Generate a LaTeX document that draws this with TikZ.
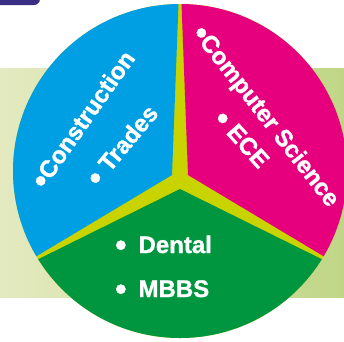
\documentclass[tikz,border=0pt]{standalone}
\usepackage{fontspec}
\setmainfont{Liberation Sans}[BoldFeatures={FakeBold=1.2}]
\usepackage{graphicx}
\definecolor{secblue}{RGB}{0,159,227}
\definecolor{secpink}{RGB}{230,0,126}
\definecolor{secgreen}{RGB}{0,150,64}
\definecolor{secyellow}{RGB}{200,211,0}
\definecolor{bandL}{RGB}{228,234,192}
\definecolor{bandR}{RGB}{192,214,135}
\definecolor{topbar}{RGB}{58,46,131}
\newcommand{\mybul}{\raisebox{-0.12em}{\scalebox{1.35}{•}}}
\tikzset{
  lbl/.style={text=white, font=\fontsize{24}{28}\selectfont\bfseries, inner sep=0pt},
}
\begin{document}
\begin{tikzpicture}[x=1pt,y=-1pt]
\useasboundingbox (0,0) rectangle (344,341);
% background band
\shade[left color=bandL, right color=bandR] (0,68) rectangle (344,297);
% top-left bar
\fill[topbar, rounded corners=6pt] (-20,-20) rectangle (40,5);
% disc
\fill[secyellow] (180,171) circle[radius=167pt];
\begin{scope}
  \clip (180,171) circle[radius=167pt];
  \fill[secblue] (172,175) -- (179.4,-20) -- (-20,-20) -- (-20,290) -- cycle;
  \fill[secpink] (188,175) -- (180.6,-20) -- (380,-20) -- (380,290) -- cycle;
  \fill[secgreen] (180,189) -- (-20,288) -- (-20,360) -- (380,360) -- (380,288) -- cycle;
\end{scope}
% labels
\node[lbl, rotate=55] (constr) at (84,120) {\mybul Construction};
\node[lbl, rotate=50] (trades) at (123,146) {\mybul\hspace{0.3em}Trades};
\node[lbl, rotate=-52] (cs) at (265,117) {\mybul Computer Science};
\node[lbl, rotate=-48] (ece) at (241,140) {\mybul\hspace{0.3em}ECE};
\node[lbl, anchor=base west] (dental) at (115,253) {\mybul\hspace{0.5em}Dental};
\node[lbl, anchor=base west] (mbbs) at (115,297) {\mybul\hspace{0.5em}MBBS};
\end{tikzpicture}
\end{document}
